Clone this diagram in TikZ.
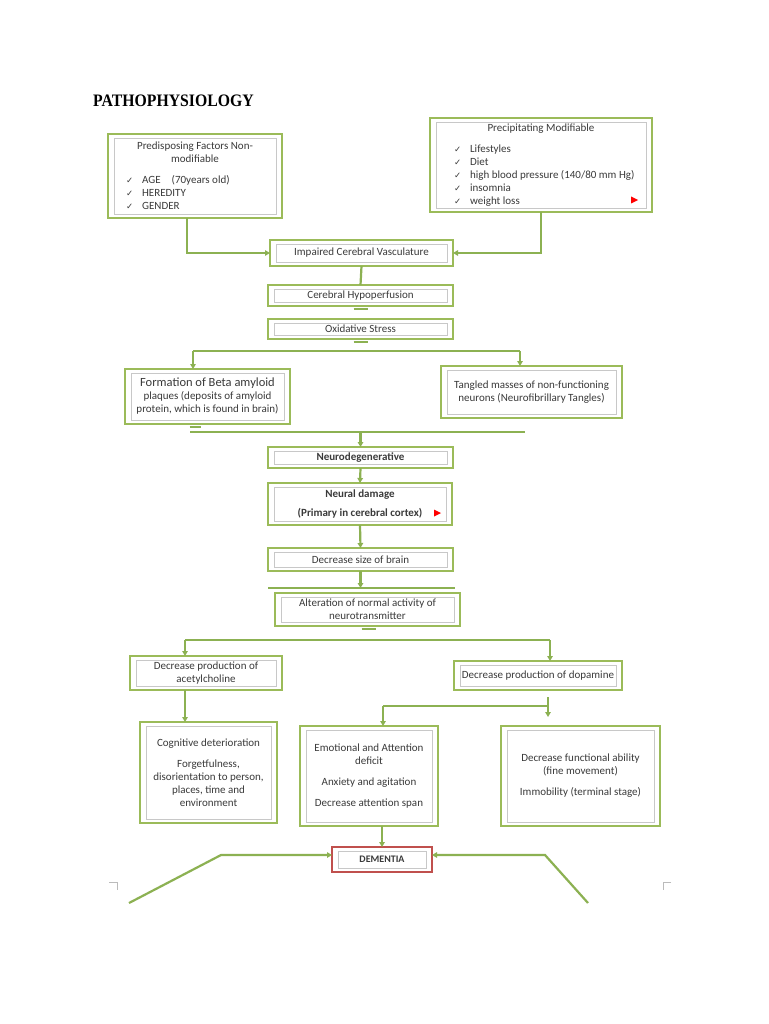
\documentclass[tikz,border=0pt]{standalone}
\usepackage{fontspec}
\setmainfont{Carlito}
\newfontfamily\titlefont{Liberation Serif}
\newfontfamily\dejavu{DejaVu Sans}
\usetikzlibrary{arrows.meta}
\definecolor{grn}{HTML}{9BBB59}
\definecolor{lgrn}{HTML}{8CB152}
\definecolor{txt}{HTML}{3A3A3A}
\definecolor{inn}{HTML}{C8C8C8}
\definecolor{redb}{HTML}{C0504D}
\definecolor{mark}{HTML}{BBBBBB}
\newcommand\ck{{\dejavu\fontsize{8.5}{8.5}\selectfont ✓}}
\begin{document}
\begin{tikzpicture}[x=1pt,y=-1pt,
  box/.style={draw=grn, line width=2.4pt, fill=white, inner sep=0pt, outer sep=0pt,
    text=txt, align=center, font=\fontsize{11}{13}\selectfont,
    path picture={\draw[inn, line width=0.7pt]
      ([shift={(6pt,-4pt)}]path picture bounding box.north west) rectangle
      ([shift={(-6pt,4pt)}]path picture bounding box.south east);}},
  redbox/.style={box, draw=redb, line width=2pt},
  ln/.style={draw=lgrn, line width=2.2pt},
  arr/.style={ln, -{Triangle[length=5pt,width=5.5pt]}},
  tick/.style={draw=mark, line width=0.8pt}
]
\useasboundingbox[fill=white] (0,0) rectangle (768,1024);

% title
\node[anchor=west, inner sep=0pt, text=black] (title) at (93,101)
  {\scalebox{0.9}[1]{\titlefont\bfseries\fontsize{17.5}{17.5}\selectfont PATHOPHYSIOLOGY}};

% boxes
\node[box, minimum width=174pt, minimum height=84pt] (pre) at (195,176)
  {\begin{minipage}{160pt}\centering Predisposing Factors Non-\\modifiable\par\vspace{8pt}\raggedright
   \hspace*{11pt}\ck\hspace{9pt}AGE\quad(70years old)\\
   \hspace*{11pt}\ck\hspace{9pt}HEREDITY\\
   \hspace*{11pt}\ck\hspace{9pt}GENDER\end{minipage}};
\node[box, minimum width=222pt, minimum height=94pt] (prec) at (541,165)
  {\begin{minipage}{208pt}\centering Precipitating Modifiable\par\vspace{8pt}\raggedright
   \hspace*{17pt}\ck\hspace{9pt}Lifestyles\\
   \hspace*{17pt}\ck\hspace{9pt}Diet\\
   \hspace*{17pt}\ck\hspace{9pt}high blood pressure (140/80 mm Hg)\\
   \hspace*{17pt}\ck\hspace{9pt}insomnia\\
   \hspace*{17pt}\ck\hspace{9pt}weight loss\end{minipage}};
\node[box, minimum width=183pt, minimum height=26pt] (imp) at (361.5,253) {Impaired Cerebral Vasculature};
\node[box, minimum width=185pt, minimum height=21pt] (hyp) at (360.5,295.5) {Cerebral Hypoperfusion};
\node[box, minimum width=185pt, minimum height=20pt] (oxi) at (360.5,329) {Oxidative Stress};
\node[box, minimum width=165pt, minimum height=55pt] (beta) at (207.5,396.5)
  {{\fontsize{12.5}{14}\selectfont Formation of Beta amyloid}\\plaques (deposits of amyloid\\protein, which is found in brain)};
\node[box, minimum width=181pt, minimum height=52pt] (tang) at (531.5,392)
  {Tangled masses of non-functioning\\neurons (Neurofibrillary Tangles)};
\node[box, minimum width=185pt, minimum height=21pt] (neuro) at (360.5,457.5) {\bfseries Neurodegenerative};
\node[box, minimum width=184pt, minimum height=42pt] (dmg) at (360,504)
  {\bfseries Neural damage\\[6pt]\bfseries (Primary in cerebral cortex)\hspace{12pt}};
\node[box, minimum width=185pt, minimum height=23pt] (size) at (360.5,559.5) {Decrease size of brain};
\node[box, minimum width=185pt, minimum height=33pt] (alt) at (367.5,609.5)
  {Alteration of normal activity of\\neurotransmitter};
\node[box, minimum width=152pt, minimum height=34pt] (ach) at (206,673)
  {Decrease production of\\acetylcholine};
\node[box, minimum width=168pt, minimum height=29pt] (dopa) at (538,675.5) {Decrease production of dopamine};
\node[box, minimum width=137pt, minimum height=101pt] (cog) at (208.5,772.5)
  {Cognitive deterioration\\[8pt]Forgetfulness,\\disorientation to person,\\places, time and\\environment};
\node[box, minimum width=138pt, minimum height=100pt] (emo) at (369,776)
  {Emotional and Attention\\deficit\\[8pt]Anxiety and agitation\\[8pt]Decrease attention span};
\node[box, minimum width=159pt, minimum height=100pt] (func) at (580.5,776)
  {Decrease functional ability\\(fine movement)\\[8pt]Immobility (terminal stage)};
\node[redbox, minimum width=100pt, minimum height=25pt, font=\fontsize{10}{12}\selectfont] (dem) at (382,859.5) {\bfseries DEMENTIA};

% red markers
\fill[red] (631,196.5) -- (638,200) -- (631,203.5) -- cycle;
\fill[red] (434,509.5) -- (441,513) -- (434,516.5) -- cycle;

% junction coordinates
\coordinate (b1) at (193,351); \coordinate (b2) at (520,351);
\coordinate (h1) at (190,432); \coordinate (h2) at (525,432);
\coordinate (h3) at (268,588); \coordinate (h4) at (455,588);
\coordinate (a1) at (185,640); \coordinate (a2) at (550,640);
\coordinate (d1) at (383,706); \coordinate (d2) at (548,706);
\coordinate (d3) at (548,697); \coordinate (d4) at (548,717);
\coordinate (l1) at (129,903); \coordinate (l2) at (221,855);
\coordinate (r1) at (588,903); \coordinate (r2) at (545,855);

% connectors
\draw[arr] ([xshift=-8pt]pre.south) |- (imp.west);
\draw[arr] (prec.south) |- (imp.east);
\draw[ln] (imp.south) -- (hyp.north);
\draw[ln] ([xshift=-7pt,yshift=-3pt]hyp.south) -- ([xshift=7pt,yshift=-3pt]hyp.south);
\draw[ln] ([xshift=-7pt,yshift=-3pt]oxi.south) -- ([xshift=7pt,yshift=-3pt]oxi.south);
\draw[ln] (b1) -- (b2);
\draw[arr] (b1) -- (b1 |- beta.north);
\draw[arr] (b2) -- (b2 |- tang.north);
\draw[ln] ([xshift=-18pt,yshift=-3pt]beta.south) -- ([xshift=-7pt,yshift=-3pt]beta.south);
\draw[ln] (h1) -- (h2);
\draw[arr] (neuro.north |- h1) -- (neuro.north);
\draw[arr] (neuro.south) -- (dmg.north);
\draw[arr] (dmg.south) -- (size.north);
\draw[ln] (h3) -- (h4);
\draw[arr] (size.south) -- (size.south |- h3);
\draw[ln] ([xshift=-6pt,yshift=-3pt]alt.south) -- ([xshift=8pt,yshift=-3pt]alt.south);
\draw[ln] (a1) -- (a2);
\draw[arr] (a1) -- (a1 |- ach.north);
\draw[arr] (a2) -- (a2 |- dopa.north);
\draw[arr] (ach.south -| a1) -- (cog.north -| a1);
\draw[ln] (d1) -- (d2);
\draw[arr] (d1) -- (d1 |- emo.north);
\draw[arr] (d3) -- (d4);
\draw[arr] (emo.south -| dem.north) -- (dem.north);
\draw[arr] (l1) -- (l2) -- (dem.west |- l2);
\draw[arr] (r1) -- (r2) -- (dem.east |- r2);

% corner marks
\draw[tick] (109,882) -- (117,882) -- (117,890);
\draw[tick] (671,882) -- (663,882) -- (663,890);
\end{tikzpicture}
\end{document}
